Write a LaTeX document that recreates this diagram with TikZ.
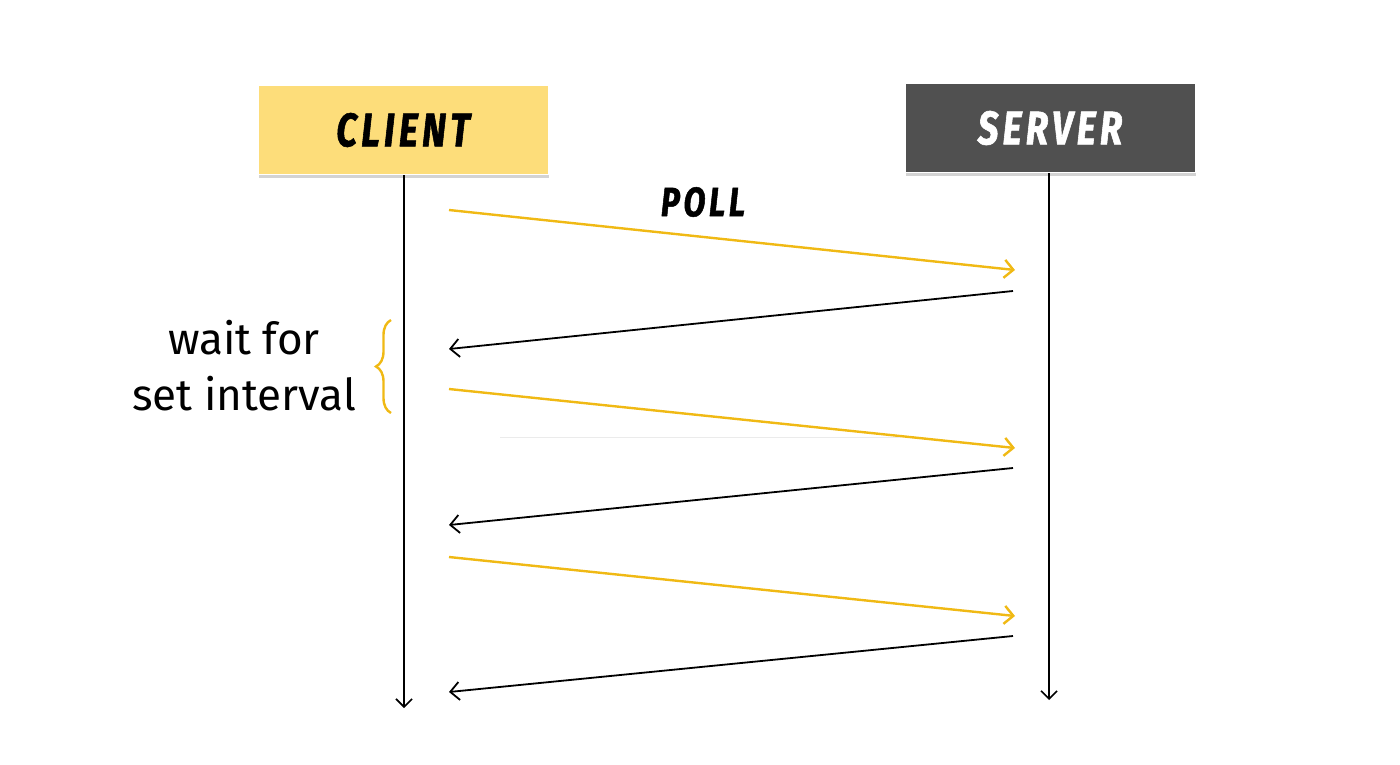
\documentclass[tikz,border=0pt]{standalone}
\usepackage{fontspec}
\setmainfont{Fira Sans}
\newfontfamily\headfont[LetterSpace=9,FakeStretch=0.78,FakeBold=1.2]{Fira Sans}
\usetikzlibrary{arrows.meta,decorations.pathreplacing,shadows}
\definecolor{cyel}{RGB}{253,221,122}
\definecolor{cdark}{RGB}{80,80,80}
\definecolor{ayel}{RGB}{240,185,20}
\tikzset{
  hbox/.style={minimum width=290pt,minimum height=89pt,inner sep=0pt,draw=white,line width=1pt,
    drop shadow={shadow xshift=1pt,shadow yshift=-3pt,opacity=0.35}},
  htext/.style={font=\headfont\fontsize{47}{50}\selectfont\bfseries\itshape},
  life/.style={line width=1.6pt,-{Straight Barb[length=8pt,width=16pt]}},
  req/.style={ayel,line width=2.4pt,-{Straight Barb[length=9pt,width=18pt]}},
  resp/.style={black,line width=1.8pt,-{Straight Barb[length=9pt,width=18pt]}},
  lbl/.style={font=\fontsize{44}{56}\selectfont,align=center}
}
\begin{document}
\begin{tikzpicture}[x=1pt,y=-1pt]
\useasboundingbox (0,0) rectangle (1400,764);
\node[hbox,fill=cyel,htext] (client) at (403,130) {CLIENT};
\node[hbox,fill=cdark,htext,text=white] (server) at (1050,128) {SERVER};
\coordinate (cend) at (404,708);
\coordinate (send) at (1049,700);
\draw[life] (client.south -| cend) -- (cend);
\draw[life] (server.south -| send) -- (send);
\coordinate (c1) at (449,210); \coordinate (s1) at (1015,270);
\coordinate (s2) at (1013,291); \coordinate (c2) at (449,349);
\coordinate (c3) at (449,389); \coordinate (s3) at (1015,448);
\coordinate (s4) at (1013,468); \coordinate (c4) at (449,525);
\coordinate (c5) at (449,557); \coordinate (s5) at (1015,616);
\coordinate (s6) at (1013,636); \coordinate (c6) at (449,692);
\draw[req] (c1) -- (s1);
\draw[resp] (s2) -- (c2);
\draw[req] (c3) -- (s3);
\draw[resp] (s4) -- (c4);
\draw[req] (c5) -- (s5);
\draw[resp] (s6) -- (c6);
\node[font=\headfont\fontsize{41}{44}\selectfont\bfseries\itshape] (poll) at (703,202) {POLL};
\coordinate (b1) at (391,413); \coordinate (b2) at (391,320);
\draw[ayel,line width=2.4pt,decorate,decoration={brace,amplitude=15pt}] (b1) -- (b2);
\node[lbl] (wait) at (244,366) {wait for\\set interval};
\coordinate (g1) at (500,437); \coordinate (g2) at (900,437);
\draw[black!8,line width=1pt] (g1) -- (g2);
\end{tikzpicture}
\end{document}
